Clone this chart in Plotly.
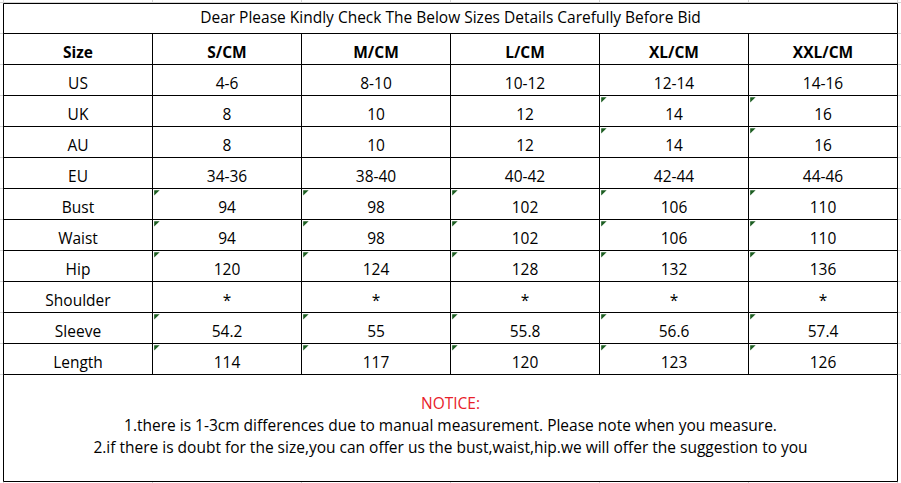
import plotly.graph_objects as go

# 表格数据
title = "Dear Please Kindly Check The Below Sizes Details Carefully Before Bid"
columns = ["Size", "S/CM", "M/CM", "L/CM", "XL/CM", "XXL/CM"]
row_labels = ["US", "UK", "AU", "EU", "Bust", "Waist", "Hip", "Shoulder", "Sleeve", "Length"]
s_cm = ["4-6", "8", "8", "34-36", "94", "94", "120", "*", "54.2", "114"]
m_cm = ["8-10", "10", "10", "38-40", "98", "98", "124", "*", "55", "117"]
l_cm = ["10-12", "12", "12", "40-42", "102", "102", "128", "*", "55.8", "120"]
xl_cm = ["12-14", "14", "14", "42-44", "106", "106", "132", "*", "56.6", "123"]
xxl_cm = ["14-16", "16", "16", "44-46", "110", "110", "136", "*", "57.4", "126"]
# 单元格左上角的绿色小三角（Excel 错误提示标记），按列给出行号
flag_rows = [
    [],
    [4, 5, 6, 8, 9],
    [4, 5, 6, 8, 9],
    [4, 5, 6, 8, 9],
    [1, 2, 4, 5, 6, 8, 9],
    [1, 2, 4, 5, 6, 8, 9],
]
notice_title = "NOTICE:"
notice_lines = [
    "1.there is 1-3cm differences due to manual measurement. Please note when you measure.",
    "2.if there is doubt for the size,you can offer us the bust,waist,hip.we will offer the suggestion to you",
]

W, H = 901, 483
COL_W, ROW_H = 149, 31          # 像素
X0, Y0 = 3.5, 64.5               # 第一列左边线 / 第一数据行上边线 (像素)
n_cols = len(columns)
n_rows = len(row_labels)
title_top = -61 / ROW_H
notes_bottom = (481.5 - Y0) / ROW_H
text_dy = 0.68                   # 文字略靠下，类似 Excel 底部对齐

FONT = "Open Sans"
fig = go.Figure()

# 浅灰色网格线（边框外可见的 Excel 网格）
shapes = []
grid = dict(color="#d4d4d4", width=1)
for c in range(n_cols + 1):
    shapes.append(dict(type="line", xref="x", yref="y", x0=c, x1=c, y0=-5, y1=20, line=grid, layer="below"))
for r in range(-2, n_rows + 1):
    shapes.append(dict(type="line", xref="x", yref="y", x0=-1, x1=7, y0=r, y1=r, line=grid, layer="below"))

# 合并单元格：标题行和说明区
border = dict(color="black", width=1)
shapes.append(dict(type="rect", xref="x", yref="y", x0=0, x1=n_cols, y0=title_top, y1=-1,
                   fillcolor="white", line=border, layer="below"))
shapes.append(dict(type="rect", xref="x", yref="y", x0=0, x1=n_cols, y0=n_rows, y1=notes_bottom,
                   fillcolor="white", line=border, layer="below"))

# 表格黑色边框
for c in range(n_cols + 1):
    shapes.append(dict(type="line", xref="x", yref="y", x0=c, x1=c, y0=-1, y1=n_rows, line=border))
for r in range(-1, n_rows + 1):
    shapes.append(dict(type="line", xref="x", yref="y", x0=0, x1=n_cols, y0=r, y1=r, line=border))

# 标题
fig.add_trace(go.Scatter(x=[n_cols / 2], y=[(title_top - 1) / 2 + 0.03], mode="text", text=[title],
                         textfont=dict(family=FONT, size=15.5, color="black"), hoverinfo="skip"))

# 表头
fig.add_trace(go.Scatter(x=[c + 0.5 for c in range(n_cols)], y=[-1 + text_dy] * n_cols, mode="text",
                         text=["<b>%s</b>" % s for s in columns],
                         textfont=dict(family=FONT, size=15.5, color="black"), hoverinfo="skip"))

# 数据列
data_cols = [row_labels, s_cm, m_cm, l_cm, xl_cm, xxl_cm]
for c, vals in enumerate(data_cols):
    fig.add_trace(go.Scatter(x=[c + 0.5] * n_rows, y=[r + text_dy for r in range(n_rows)], mode="text",
                             text=vals, textfont=dict(family=FONT, size=15.5, color="black"),
                             hoverinfo="skip"))

# 绿色小三角
fx, fy = [], []
for c, rows in enumerate(flag_rows):
    for r in rows:
        fx.append(c + 3.5 / COL_W)
        fy.append(r + 3.5 / ROW_H)
fig.add_trace(go.Scatter(x=fx, y=fy, mode="markers",
                         marker=dict(symbol="triangle-nw", size=6, color="#1d5e22", line=dict(width=0)),
                         hoverinfo="skip"))

# 说明文字
fig.add_trace(go.Scatter(x=[n_cols / 2], y=[(405 - Y0) / ROW_H], mode="text", text=[notice_title],
                         textfont=dict(family=FONT, size=15.5, color="#e8202a"), hoverinfo="skip"))
fig.add_trace(go.Scatter(x=[n_cols / 2] * 2, y=[(427 - Y0) / ROW_H, (449 - Y0) / ROW_H], mode="text",
                         text=notice_lines, textfont=dict(family=FONT, size=15.5, color="black"),
                         hoverinfo="skip"))

fig.update_layout(width=W, height=H, margin=dict(l=0, r=0, t=0, b=0), showlegend=False,
                  paper_bgcolor="white", plot_bgcolor="white", shapes=shapes)
fig.update_xaxes(visible=False, range=[-X0 / COL_W, (W - X0) / COL_W], fixedrange=True)
fig.update_yaxes(visible=False, range=[(H - Y0) / ROW_H, -Y0 / ROW_H], fixedrange=True)

# 去掉页面默认的 8px 边距
fig.write_html("out.html", config={"displayModeBar": False},
               post_script="document.body.style.margin='0';document.body.style.overflow='hidden';")
